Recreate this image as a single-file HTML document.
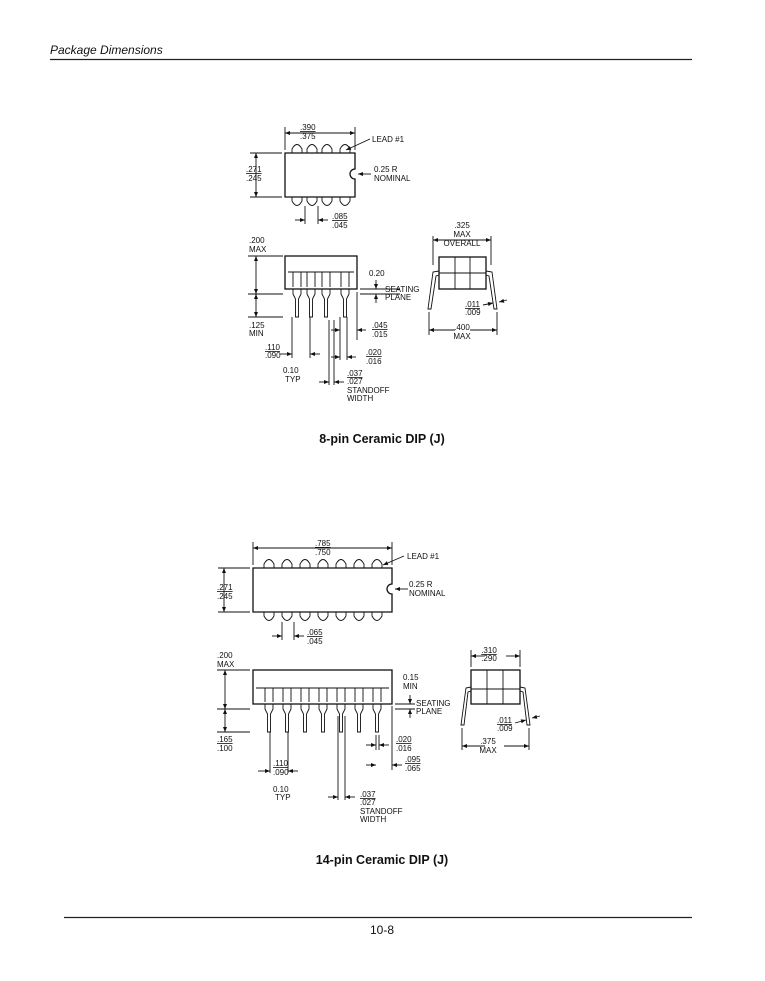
<!DOCTYPE html>
<html><head><meta charset="utf-8"><style>
html,body{margin:0;padding:0;background:#fff}
svg{display:block}
text{font-family:"Liberation Sans",sans-serif;font-size:8px;fill:#111}
.t{font-size:12.5px;font-weight:bold}
</style></head><body>
<svg id="s" width="765" height="981" viewBox="0 0 765 981" xmlns="http://www.w3.org/2000/svg">
<defs>
<marker id="a" viewBox="0 0 10 10" refX="10" refY="5" markerWidth="7" markerHeight="5" orient="auto-start-reverse" markerUnits="userSpaceOnUse"><path d="M0,1 L10,5 L0,9z" fill="#111"/></marker>
</defs>
<text x="50" y="54" style="font-size:12px;font-style:italic">Package Dimensions</text>
<line x1="50" y1="59.5" x2="692" y2="59.5" stroke="#222" stroke-width="1.3"/>
<line x1="64" y1="917.5" x2="692" y2="917.5" stroke="#222" stroke-width="1.3"/>
<text x="382" y="934" text-anchor="middle" style="font-size:12px">10-8</text>

<g stroke="#111" stroke-width="0.9" fill="none" id="g1">
<path d="M285,153 H355 V169 A5,5 0 0 0 355,179 V197 H285 Z" stroke-width="1.3"/>
<line x1="285" y1="127" x2="285" y2="150"/><line x1="355" y1="127" x2="355" y2="150"/>
<line x1="285" y1="133" x2="355" y2="133" marker-start="url(#a)" marker-end="url(#a)"/>
<line x1="250" y1="153" x2="282" y2="153"/><line x1="250" y1="197" x2="282" y2="197"/>
<line x1="256" y1="153" x2="256" y2="197" marker-start="url(#a)" marker-end="url(#a)"/>
<line x1="370" y1="139" x2="346" y2="150" marker-end="url(#a)"/>
<line x1="371" y1="174" x2="358" y2="174" marker-end="url(#a)"/>
<line x1="305" y1="206" x2="305" y2="224"/><line x1="318" y1="206" x2="318" y2="224"/>
<line x1="295" y1="220" x2="305" y2="220" marker-end="url(#a)"/><line x1="328" y1="220" x2="318" y2="220" marker-end="url(#a)"/>
<rect x="285" y="256" width="72" height="33" stroke-width="1.3"/>
<line x1="288" y1="272" x2="354" y2="272"/>
<line x1="248" y1="256" x2="283" y2="256"/><line x1="248" y1="294" x2="283" y2="294"/><line x1="248" y1="317" x2="283" y2="317"/>
<line x1="256" y1="256" x2="256" y2="294" marker-start="url(#a)" marker-end="url(#a)"/>
<line x1="256" y1="294" x2="256" y2="317" marker-start="url(#a)" marker-end="url(#a)"/>
<line x1="360" y1="289" x2="400" y2="289"/><line x1="360" y1="294" x2="400" y2="294"/>
<line x1="376" y1="280" x2="376" y2="289" marker-end="url(#a)"/><line x1="376" y1="303" x2="376" y2="294" marker-end="url(#a)"/>
<line x1="292" y1="317" x2="292" y2="358"/><line x1="310" y1="317" x2="310" y2="358"/>
<line x1="280" y1="354" x2="292" y2="354" marker-end="url(#a)"/><line x1="320" y1="354" x2="310" y2="354" marker-end="url(#a)"/>
<line x1="329" y1="320" x2="329" y2="385"/><line x1="334" y1="320" x2="334" y2="385"/>
<line x1="319" y1="382" x2="329" y2="382" marker-end="url(#a)"/><line x1="344" y1="382" x2="334" y2="382" marker-end="url(#a)"/>
<line x1="340" y1="317" x2="340" y2="360"/><line x1="347" y1="317" x2="347" y2="360"/><line x1="357" y1="292" x2="357" y2="340"/>
<line x1="331" y1="330" x2="340" y2="330" marker-end="url(#a)"/><line x1="366" y1="330" x2="357" y2="330" marker-end="url(#a)"/>
<line x1="331" y1="357" x2="340" y2="357" marker-end="url(#a)"/><line x1="356" y1="357" x2="347" y2="357" marker-end="url(#a)"/>
<rect x="439" y="257" width="47" height="32" stroke-width="1.3"/>
<line x1="455" y1="257" x2="455" y2="289"/><line x1="470" y1="257" x2="470" y2="289"/><line x1="439" y1="273" x2="486" y2="273"/>
<path d="M439,271 L433,272 L428,309 L431,309 L436,276 L439,275"/>
<path d="M486,271 L492,272 L497,309 L494,309 L489,276 L486,275"/>
<line x1="433" y1="236" x2="433" y2="265"/><line x1="491" y1="236" x2="491" y2="265"/>
<line x1="433" y1="240" x2="491" y2="240" marker-start="url(#a)" marker-end="url(#a)"/>
<line x1="429" y1="312" x2="429" y2="335"/><line x1="497" y1="312" x2="497" y2="335"/>
<line x1="429" y1="330" x2="455" y2="330" marker-start="url(#a)"/><line x1="470" y1="330" x2="497" y2="330" marker-end="url(#a)"/>
<line x1="483" y1="305" x2="493" y2="303" marker-end="url(#a)"/><line x1="507" y1="300" x2="499" y2="302" marker-end="url(#a)"/>

<path d="M253,568 H392 V584 A5,5 0 0 0 392,594 V612 H253 Z" stroke-width="1.3"/>
<line x1="253" y1="542" x2="253" y2="565"/><line x1="392" y1="542" x2="392" y2="565"/>
<line x1="253" y1="548" x2="392" y2="548" marker-start="url(#a)" marker-end="url(#a)"/>
<line x1="218" y1="568" x2="250" y2="568"/><line x1="218" y1="612" x2="250" y2="612"/>
<line x1="224" y1="568" x2="224" y2="612" marker-start="url(#a)" marker-end="url(#a)"/>
<line x1="404" y1="556" x2="383" y2="565" marker-end="url(#a)"/>
<line x1="408" y1="589" x2="395" y2="589" marker-end="url(#a)"/>
<line x1="282" y1="622" x2="282" y2="640"/><line x1="294" y1="622" x2="294" y2="640"/>
<line x1="272" y1="636" x2="282" y2="636" marker-end="url(#a)"/><line x1="304" y1="636" x2="294" y2="636" marker-end="url(#a)"/>
<rect x="253" y="670" width="139" height="34" stroke-width="1.3"/>
<line x1="256" y1="688" x2="389" y2="688"/>
<line x1="217" y1="670" x2="250" y2="670"/><line x1="217" y1="709" x2="250" y2="709"/><line x1="217" y1="732" x2="250" y2="732"/>
<line x1="225" y1="670" x2="225" y2="709" marker-start="url(#a)" marker-end="url(#a)"/>
<line x1="225" y1="709" x2="225" y2="732" marker-start="url(#a)" marker-end="url(#a)"/>
<line x1="395" y1="704" x2="415" y2="704"/><line x1="395" y1="709" x2="415" y2="709"/>
<line x1="410" y1="695" x2="410" y2="704" marker-end="url(#a)"/><line x1="410" y1="718" x2="410" y2="709" marker-end="url(#a)"/>
<line x1="270" y1="732" x2="270" y2="773"/><line x1="288" y1="732" x2="288" y2="773"/>
<line x1="258" y1="771" x2="270" y2="771" marker-end="url(#a)"/><line x1="298" y1="771" x2="288" y2="771" marker-end="url(#a)"/>
<line x1="338" y1="716" x2="338" y2="800"/><line x1="345" y1="716" x2="345" y2="800"/>
<line x1="328" y1="797" x2="338" y2="797" marker-end="url(#a)"/><line x1="355" y1="797" x2="345" y2="797" marker-end="url(#a)"/>
<line x1="376" y1="735" x2="376" y2="750"/><line x1="379" y1="735" x2="379" y2="750"/><line x1="392" y1="706" x2="392" y2="770"/>
<line x1="366" y1="745" x2="376" y2="745" marker-end="url(#a)"/><line x1="389" y1="745" x2="379" y2="745" marker-end="url(#a)"/>
<line x1="366" y1="765" x2="376" y2="765" marker-end="url(#a)"/><line x1="402" y1="765" x2="392" y2="765" marker-end="url(#a)"/>
<rect x="471" y="670" width="49" height="34" stroke-width="1.3"/>
<line x1="487" y1="670" x2="487" y2="704"/><line x1="503" y1="670" x2="503" y2="704"/><line x1="471" y1="689" x2="520" y2="689"/>
<path d="M471,687 L466,688 L461,725 L464,725 L468,692 L471,691"/>
<path d="M520,687 L525,688 L530,725 L527,725 L523,692 L520,691"/>
<line x1="471" y1="650" x2="471" y2="667"/><line x1="520" y1="650" x2="520" y2="667"/>
<line x1="471" y1="656" x2="484" y2="656" marker-start="url(#a)"/><line x1="506" y1="656" x2="520" y2="656" marker-end="url(#a)"/>
<line x1="462" y1="728" x2="462" y2="750"/><line x1="529" y1="728" x2="529" y2="750"/>
<line x1="462" y1="746" x2="485" y2="746" marker-start="url(#a)"/><line x1="504" y1="746" x2="529" y2="746" marker-end="url(#a)"/>
<line x1="515" y1="723" x2="526" y2="720" marker-end="url(#a)"/><line x1="540" y1="716" x2="532" y2="718" marker-end="url(#a)"/>
</g>
<g id="leads" stroke="#111" stroke-width="0.9" fill="none"></g>

<text x="300" y="130" text-decoration="underline">.390</text><text x="300" y="139">.375</text>
<text x="372" y="142">LEAD #1</text>
<text x="246" y="172" text-decoration="underline">.271</text><text x="246" y="181">.245</text>
<text x="374" y="172">0.25 R</text><text x="374" y="181">NOMINAL</text>
<text x="332" y="219" text-decoration="underline">.085</text><text x="332" y="228">.045</text>
<text x="249" y="243">.200</text><text x="249" y="252">MAX</text>
<text x="369" y="276">0.20</text><text x="385" y="292">SEATING</text><text x="385" y="300">PLANE</text>
<text x="249" y="328">.125</text><text x="249" y="336">MIN</text>
<text x="372" y="328" text-decoration="underline">.045</text><text x="372" y="337">.015</text>
<text x="265" y="350" text-decoration="underline">.110</text><text x="265" y="358">.090</text>
<text x="366" y="355" text-decoration="underline">.020</text><text x="366" y="364">.016</text>
<text x="283" y="373">0.10</text><text x="285" y="382">TYP</text>
<text x="347" y="376" text-decoration="underline">.037</text><text x="347" y="384">.027</text><text x="347" y="393">STANDOFF</text><text x="347" y="401">WIDTH</text>
<text x="462" y="228" text-anchor="middle">.325</text><text x="462" y="237" text-anchor="middle">MAX</text><text x="462" y="246" text-anchor="middle">OVERALL</text>
<text x="465" y="307" text-decoration="underline">.011</text><text x="465" y="315">.009</text>
<text x="462" y="330" text-anchor="middle">.400</text><text x="462" y="339" text-anchor="middle">MAX</text>
<text class="t" x="382" y="443" text-anchor="middle">8-pin Ceramic DIP (J)</text>

<text x="315" y="546" text-decoration="underline">.785</text><text x="315" y="555">.750</text>
<text x="407" y="559">LEAD #1</text>
<text x="217" y="590" text-decoration="underline">.271</text><text x="217" y="599">.245</text>
<text x="409" y="587">0.25 R</text><text x="409" y="596">NOMINAL</text>
<text x="307" y="635" text-decoration="underline">.065</text><text x="307" y="644">.045</text>
<text x="217" y="658">.200</text><text x="217" y="667">MAX</text>
<text x="403" y="680">0.15</text><text x="403" y="689">MIN</text>
<text x="416" y="706">SEATING</text><text x="416" y="714">PLANE</text>
<text x="217" y="742" text-decoration="underline">.165</text><text x="217" y="751">.100</text>
<text x="396" y="742" text-decoration="underline">.020</text><text x="396" y="751">.016</text>
<text x="405" y="762" text-decoration="underline">.095</text><text x="405" y="771">.065</text>
<text x="273" y="766" text-decoration="underline">.110</text><text x="273" y="775">.090</text>
<text x="273" y="792">0.10</text><text x="275" y="800">TYP</text>
<text x="360" y="797" text-decoration="underline">.037</text><text x="360" y="805">.027</text><text x="360" y="814">STANDOFF</text><text x="360" y="822">WIDTH</text>
<text x="489" y="653" text-anchor="middle" text-decoration="underline">.310</text><text x="489" y="661" text-anchor="middle">.290</text>
<text x="497" y="723" text-decoration="underline">.011</text><text x="497" y="731">.009</text>
<text x="488" y="744" text-anchor="middle">.375</text><text x="488" y="753" text-anchor="middle">MAX</text>
<text class="t" x="382" y="864" text-anchor="middle">14-pin Ceramic DIP (J)</text>
</svg>
<script>
var g=document.getElementById('leads'),h='';
function drawTop(cs,bt,bb){cs.forEach(function(c){
h+='<path d="M'+(c-5)+','+bt+' L'+(c-5)+','+(bt-4)+' Q'+c+','+(bt-13)+' '+(c+5)+','+(bt-4)+' L'+(c+5)+','+bt+'"/>';
h+='<path d="M'+(c-5)+','+bb+' L'+(c-5)+','+(bb+4)+' Q'+c+','+(bb+13)+' '+(c+5)+','+(bb+4)+' L'+(c+5)+','+bb+'"/>';});}
function drawSide(cs,il,bb,end){cs.forEach(function(c){
h+='<path d="M'+(c-4)+','+il+' L'+(c-4)+','+(bb-2)+' M'+(c+4)+','+il+' L'+(c+4)+','+(bb-2)+'"/>';
h+='<path d="M'+(c-4)+','+bb+' L'+(c-4)+','+(bb+5)+' L'+(c-1.5)+','+(bb+10)+' L'+(c-1.5)+','+end+' L'+(c+1.5)+','+end+' L'+(c+1.5)+','+(bb+10)+' L'+(c+4)+','+(bb+5)+' L'+(c+4)+','+bb+'"/>';});}
drawTop([297,312,327,345],153,197);
drawSide([297,311,326,345],272,289,317);
var c14=[269,287,305,323,341,359,377];
drawTop(c14,568,612);
drawSide(c14,688,704,732);
g.innerHTML=h;
</script>
</body></html>
